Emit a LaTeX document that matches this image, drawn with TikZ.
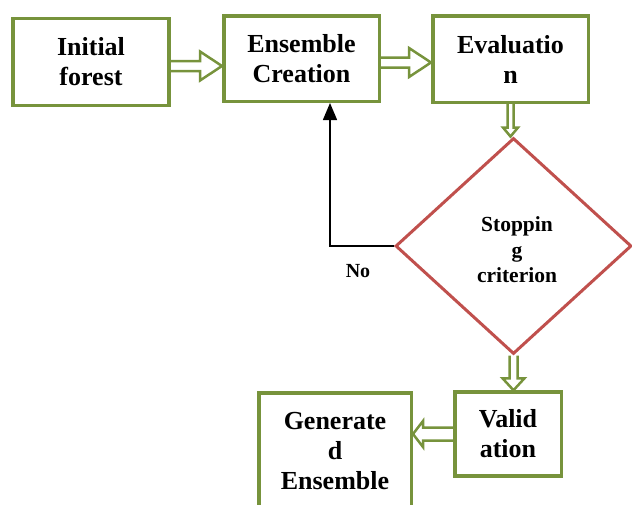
\documentclass[tikz,border=0pt]{standalone}
\usepackage{fontspec}
\setmainfont{Liberation Serif}
\usetikzlibrary{shapes.geometric,arrows.meta,calc}
\definecolor{boxgreen}{RGB}{119,147,60}
\definecolor{dred}{RGB}{192,80,77}
\begin{document}
\begin{tikzpicture}[x=1pt,y=-1pt,
  box/.style={draw=boxgreen, line width=3.5pt, inner sep=0pt, align=center,
    font=\fontsize{26}{30}\selectfont\bfseries},
  hollow/.style n args={3}{draw=boxgreen, line width=2.5pt, line join=miter,
    to path={
      ($(\tikztostart)!#1!90:(\tikztotarget)$)
      -- ($($(\tikztotarget)!#3!(\tikztostart)$)!#1!-90:(\tikztostart)$)
      -- ($($(\tikztotarget)!#3!(\tikztostart)$)!#2!-90:(\tikztostart)$)
      -- (\tikztotarget)
      -- ($($(\tikztotarget)!#3!(\tikztostart)$)!#2!90:(\tikztostart)$)
      -- ($($(\tikztotarget)!#3!(\tikztostart)$)!#1!90:(\tikztostart)$)
      -- ($(\tikztostart)!#1!-90:(\tikztotarget)$)
    }},
  decision/.style={diamond, draw=dred, line width=3pt, inner sep=0pt,
    minimum width=236pt, minimum height=216pt},
  difftext/.style={align=center, font=\fontsize{21.5}{25.5}\selectfont\bfseries},
  noarrow/.style={draw=black, line width=1.5pt, -{Triangle[length=17pt,width=14pt]}}
]
\useasboundingbox (0,0) rectangle (632,504);

\node[box, minimum width=156pt, minimum height=87pt] (b1) at (91,62) {Initial\\forest};
\node[box, minimum width=155.5pt, minimum height=85.5pt] (b2) at (301.5,58.5) {Ensemble\\Creation};
\node[box, minimum width=155.5pt, minimum height=86.5pt] (b3) at (510.5,59) {Evaluatio\\n};
\node[decision] (d) at (513.5,246) {};
\node[difftext] (dt) at (517,250) {Stoppin\\g\\criterion};
\node[box, minimum width=106.5pt, minimum height=84pt] (bV) at (508,434) {Valid\\ation};
\node[box, minimum width=152.5pt, minimum height=116pt] (bG) at (335,451) {Generate\\d\\Ensemble};

\draw[hollow={5pt}{14.5pt}{22pt}] ([yshift=-4pt]b1.east) to ([yshift=-4pt]b1.east -| b2.west);
\draw[hollow={5pt}{14.5pt}{22pt}] ([yshift=-4pt]b2.east) to ([yshift=-4pt]b2.east -| b3.west);
\draw[hollow={3pt}{7.5pt}{9pt}] (b3.south) to (b3.south |- d.north);
\draw[hollow={4pt}{11pt}{12pt}] (d.south) to (d.south |- bV.north);
\draw[hollow={6.5pt}{13pt}{10pt}] (bV.west) to (bV.west -| bG.east);

\draw[noarrow] (d.west) -| ([xshift=28.5pt]b2.south);
\node[font=\fontsize{20}{22}\selectfont\bfseries] (no) at (358,271) {No};
\end{tikzpicture}
\end{document}
